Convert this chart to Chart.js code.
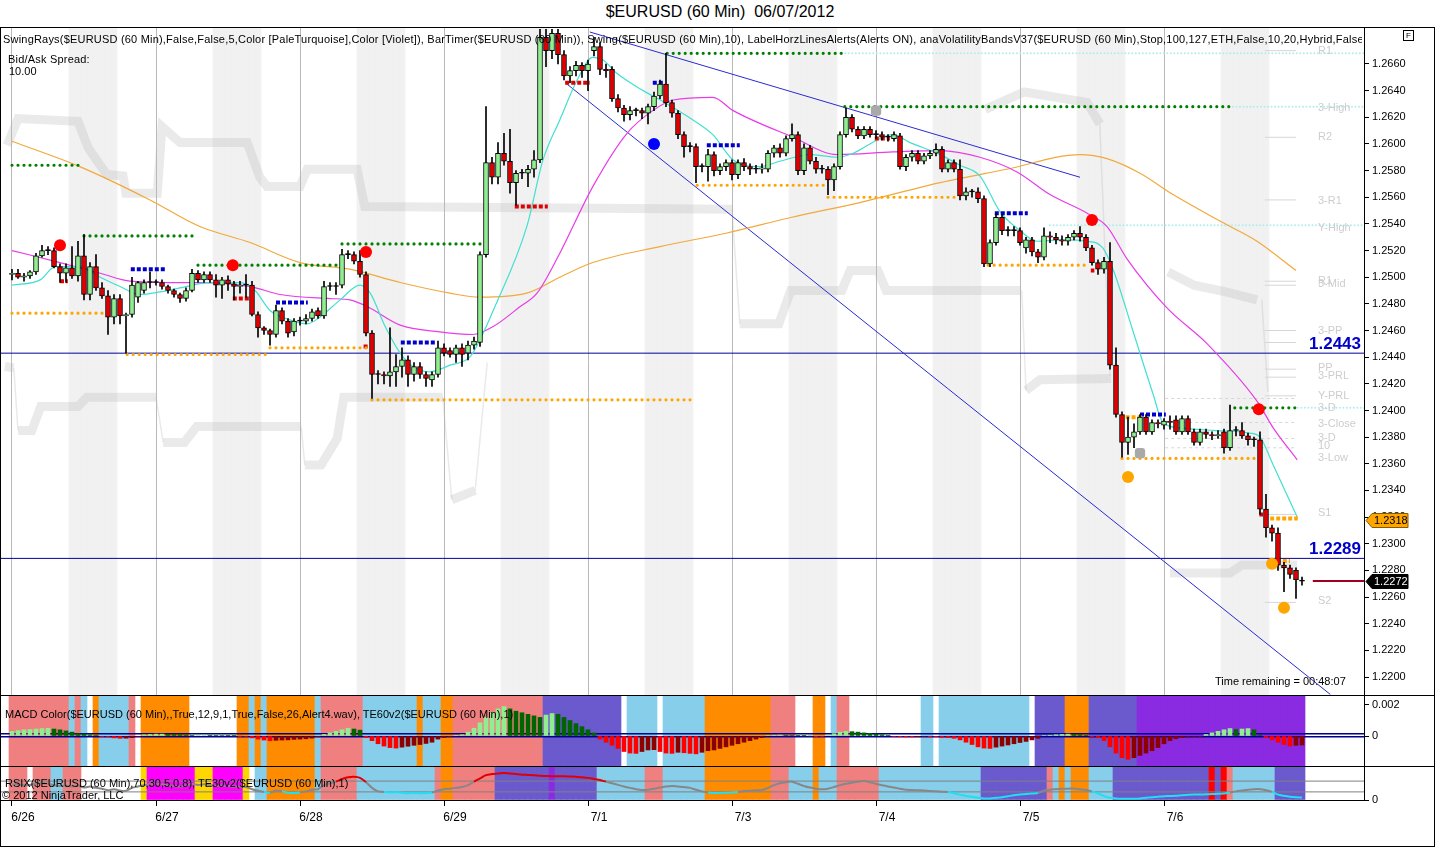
<!DOCTYPE html>
<html><head><meta charset="utf-8">
<script src="https://cdn.jsdelivr.net/npm/chart.js@4.4.1/dist/chart.umd.min.js"></script>
<style>
body{margin:0;background:#fff;width:1440px;height:847px;position:relative;overflow:hidden;font-family:Arial,"Liberation Sans",sans-serif;}
.t{position:absolute;white-space:nowrap;color:#000;font-size:11px;line-height:13px;z-index:5;}
canvas{position:absolute;left:0;}
.hl{position:absolute;background:#000;height:1px;left:0;z-index:6;}
</style></head><body>
<div class="t" style="left:0;width:1440px;top:3px;text-align:center;font-size:16px;line-height:18px;">$EURUSD (60 Min)&nbsp;&nbsp;06/07/2012</div>
<canvas id="cMain" width="1434" height="668" style="top:27px"></canvas>
<canvas id="cMacd" width="1434" height="71" style="top:695px"></canvas>
<canvas id="cRsi" width="1434" height="80" style="top:766px"></canvas>
<div style="position:absolute;left:0;top:27px;width:1435px;height:820px;box-sizing:border-box;border:1px solid #000;z-index:6;pointer-events:none"></div>
<div class="hl" style="top:695px;width:1435px"></div>
<div class="hl" style="top:766px;width:1435px"></div>
<div class="hl" style="top:800px;width:1365px"></div>
<div class="t" style="left:1403px;top:30px;width:9px;height:9px;border:1px solid #000;font-size:8px;line-height:9px;text-align:center;">F</div>
<div class="t" style="left:3px;top:33px;width:1359px;overflow:hidden;letter-spacing:0.2px;">SwingRays($EURUSD (60 Min),False,False,5,Color [PaleTurquoise],Color [Violet]), BarTimer($EURUSD (60 Min)), Swing($EURUSD (60 Min),10), LabelHorzLinesAlerts(Alerts ON), anaVolatilityBandsV37($EURUSD (60 Min),Stop,100,127,ETH,False,10,20,Hybrid,False,False)</div>
<div class="t" style="left:8px;top:53px;letter-spacing:0.2px;">Bid/Ask Spread:</div>
<div class="t" style="left:9px;top:65px;">10.00</div>
<div class="t" style="left:1215px;top:675px;">Time remaining = 00:48:07</div>
<div class="t" style="left:5px;top:708px;">MACD Color($EURUSD (60 Min),,True,12,9,1,True,False,26,Alert4.wav), TE60v2($EURUSD (60 Min),1)</div>
<div class="t" style="left:5px;top:777px;">RSIX($EURUSD (60 Min),70,30,5,0.8), TE30v2($EURUSD (60 Min),1)</div>
<div class="t" style="left:2px;top:789px;">© 2012 NinjaTrader, LLC</div>
<script>
// ---------------- DATA ----------------
const dayStarts = [0,24,48,72,96,120,144,168,192];
const dayLabels = ['6/26','6/27','6/28','6/29','7/1','7/3','7/4','7/5','7/6'];
const priceTicks = [1.2200,1.2220,1.2240,1.2260,1.2280,1.2300,1.2320,1.2340,1.2360,1.2380,1.2400,1.2420,1.2440,1.2460,1.2480,1.2500,1.2520,1.2540,1.2560,1.2580,1.2600,1.2620,1.2640,1.2660];
const sessionShadeStarts = [10,34,58,82,106,130,154,178,202];

const openP = [
1.2502,1.2503,1.2500,1.2501,1.2504,1.2516,1.2520,1.2520,1.2508,1.2503,1.2507,1.2501,
1.2516,1.2487,1.2508,1.2492,1.2486,1.2470,1.2484,1.2471,1.2472,1.2485,1.2490,1.2496,
1.2496,1.2496,1.2493,1.2490,1.2487,1.2484,1.2490,1.2503,1.2498,1.2502,1.2498,1.2494,
1.2498,1.2495,1.2493,1.2494,1.2494,1.2472,1.2462,1.2460,1.2457,1.2475,1.2467,1.2459,
1.2467,1.2467,1.2469,1.2475,1.2471,1.2493,1.2493,1.2494,1.2517,1.2517,1.2512,1.2502,
1.2458,1.2427,1.2427,1.2426,1.2429,1.2433,1.2438,1.2427,1.2433,1.2427,1.2423,1.2427,
1.2447,1.2445,1.2442,1.2447,1.2443,1.2449,1.2451,1.2517,1.2586,1.2575,1.2593,1.2587,
1.2571,1.2578,1.2578,1.2581,1.2588,1.2680,1.2670,1.2683,1.2667,1.2651,1.2655,1.2659,
1.2655,1.2670,1.2673,1.2656,1.2656,1.2634,1.2627,1.2622,1.2625,1.2625,1.2623,1.2628,
1.2636,1.2645,1.2631,1.2623,1.2607,1.2598,1.2598,1.2583,1.2583,1.2592,1.2580,1.2583,
1.2586,1.2577,1.2586,1.2583,1.2581,1.2581,1.2581,1.2593,1.2597,1.2593,1.2604,1.2607,
1.2580,1.2597,1.2587,1.2581,1.2581,1.2573,1.2583,1.2607,1.2620,1.2611,1.2606,1.2611,
1.2607,1.2607,1.2605,1.2604,1.2606,1.2583,1.2590,1.2593,1.2587,1.2591,1.2593,1.2596,
1.2581,1.2586,1.2581,1.2561,1.2564,1.2564,1.2559,1.2510,1.2526,1.2545,1.2535,1.2535,
1.2535,1.2522,1.2528,1.2519,1.2515,1.2531,1.2530,1.2528,1.2527,1.2530,1.2533,1.2530,
1.2522,1.2511,1.2506,1.2512,1.2434,1.2397,1.2376,1.2380,1.2384,1.2395,1.2384,1.2391,
1.2389,1.2392,1.2393,1.2384,1.2394,1.2384,1.2376,1.2384,1.2382,1.2381,1.2384,1.2372,
1.2385,1.2385,1.2381,1.2378,1.2378,1.2326,1.2312,1.2308,1.2284,1.2282,1.2280,1.2272];
const highP = [
1.2506,1.2506,1.2503,1.2505,1.2518,1.2524,1.2523,1.2522,1.2510,1.2510,1.2523,1.2527,
1.2532,1.2511,1.2517,1.2496,1.2490,1.2487,1.2487,1.2473,1.2500,1.2497,1.2498,1.2504,
1.2498,1.2498,1.2494,1.2491,1.2488,1.2492,1.2506,1.2505,1.2504,1.2504,1.2502,1.2500,
1.2501,1.2497,1.2497,1.2502,1.2497,1.2474,1.2463,1.2461,1.2479,1.2477,1.2469,1.2469,
1.2470,1.2472,1.2476,1.2477,1.2497,1.2496,1.2496,1.2521,1.2520,1.2519,1.2520,1.2504,
1.2460,1.2430,1.2429,1.2462,1.2442,1.2447,1.2441,1.2436,1.2436,1.2429,1.2429,1.2452,
1.2450,1.2447,1.2449,1.2450,1.2452,1.2455,1.2519,1.2628,1.2590,1.2601,1.2608,1.2611,
1.2580,1.2581,1.2584,1.2595,1.2686,1.2686,1.2686,1.2686,1.2670,1.2658,1.2662,1.2661,
1.2663,1.2680,1.2676,1.2660,1.2658,1.2637,1.2629,1.2628,1.2627,1.2627,1.2630,1.2639,
1.2648,1.2668,1.2633,1.2625,1.2609,1.2601,1.2600,1.2585,1.2596,1.2594,1.2585,1.2588,
1.2588,1.2588,1.2589,1.2585,1.2584,1.2585,1.2595,1.2599,1.2600,1.2606,1.2615,1.2609,
1.2600,1.2599,1.2590,1.2584,1.2583,1.2585,1.2609,1.2627,1.2622,1.2613,1.2613,1.2613,
1.2610,1.2609,1.2607,1.2609,1.2608,1.2592,1.2595,1.2595,1.2593,1.2595,1.2600,1.2598,
1.2588,1.2588,1.2588,1.2567,1.2566,1.2567,1.2561,1.2528,1.2548,1.2547,1.2538,1.2538,
1.2537,1.2530,1.2530,1.2521,1.2537,1.2534,1.2533,1.2531,1.2532,1.2535,1.2538,1.2532,
1.2524,1.2513,1.2515,1.2526,1.2447,1.2399,1.2395,1.2390,1.2397,1.2397,1.2393,1.2393,
1.2394,1.2396,1.2396,1.2396,1.2396,1.2386,1.2386,1.2386,1.2384,1.2385,1.2386,1.2404,
1.2388,1.2391,1.2383,1.2380,1.2384,1.2337,1.2314,1.2312,1.2286,1.2284,1.2282,1.2275];
const lowP = [
1.2498,1.2499,1.2497,1.2499,1.2502,1.2515,1.2517,1.2507,1.2496,1.2496,1.2499,1.2497,
1.2483,1.2483,1.2490,1.2484,1.2457,1.2465,1.2465,1.2443,1.2470,1.2481,1.2488,1.2492,
1.2494,1.2491,1.2488,1.2485,1.2481,1.2482,1.2489,1.2496,1.2496,1.2496,1.2485,1.2484,
1.2490,1.2483,1.2488,1.2485,1.2471,1.2455,1.2457,1.2449,1.2455,1.2465,1.2455,1.2456,
1.2464,1.2465,1.2467,1.2469,1.2469,1.2490,1.2487,1.2492,1.2514,1.2510,1.2500,1.2456,
1.2409,1.2420,1.2420,1.2418,1.2418,1.2425,1.2418,1.2422,1.2424,1.2418,1.2418,1.2425,
1.2441,1.2440,1.2436,1.2433,1.2438,1.2446,1.2448,1.2515,1.2570,1.2570,1.2584,1.2563,
1.2554,1.2574,1.2568,1.2575,1.2586,1.2658,1.2664,1.2660,1.2648,1.2646,1.2651,1.2650,
1.2640,1.2666,1.2652,1.2650,1.2632,1.2624,1.2617,1.2618,1.2621,1.2619,1.2615,1.2625,
1.2634,1.2628,1.2620,1.2604,1.2590,1.2594,1.2571,1.2579,1.2572,1.2576,1.2577,1.2580,
1.2573,1.2574,1.2580,1.2577,1.2578,1.2578,1.2579,1.2590,1.2590,1.2591,1.2602,1.2577,
1.2577,1.2585,1.2578,1.2578,1.2562,1.2565,1.2581,1.2605,1.2609,1.2604,1.2604,1.2605,
1.2604,1.2603,1.2602,1.2602,1.2581,1.2580,1.2587,1.2585,1.2585,1.2589,1.2591,1.2579,
1.2579,1.2579,1.2558,1.2558,1.2560,1.2556,1.2508,1.2508,1.2524,1.2532,1.2531,1.2531,
1.2524,1.2518,1.2516,1.2511,1.2513,1.2526,1.2525,1.2524,1.2524,1.2528,1.2527,1.2520,
1.2509,1.2502,1.2503,1.2431,1.2395,1.2365,1.2367,1.2372,1.2382,1.2382,1.2382,1.2387,
1.2386,1.2386,1.2382,1.2382,1.2382,1.2374,1.2374,1.2379,1.2378,1.2379,1.2368,1.2370,
1.2381,1.2379,1.2374,1.2373,1.2322,1.2305,1.2302,1.2280,1.2264,1.2274,1.2259,1.2269];
const closeP = [
1.2503,1.2500,1.2501,1.2504,1.2516,1.2520,1.2520,1.2508,1.2503,1.2507,1.2501,1.2516,
1.2487,1.2508,1.2492,1.2486,1.2470,1.2484,1.2471,1.2472,1.2494,1.2496,1.2496,1.2496,
1.2496,1.2493,1.2490,1.2487,1.2484,1.2490,1.2503,1.2498,1.2502,1.2498,1.2494,1.2498,
1.2495,1.2493,1.2494,1.2494,1.2472,1.2462,1.2460,1.2457,1.2475,1.2467,1.2458,1.2467,
1.2467,1.2469,1.2474,1.2471,1.2493,1.2493,1.2493,1.2517,1.2517,1.2512,1.2502,1.2458,
1.2427,1.2427,1.2426,1.2429,1.2433,1.2438,1.2427,1.2433,1.2427,1.2424,1.2427,1.2447,
1.2443,1.2442,1.2447,1.2442,1.2449,1.2452,1.2517,1.2586,1.2575,1.2593,1.2587,1.2571,
1.2578,1.2578,1.2581,1.2588,1.2680,1.2670,1.2683,1.2667,1.2651,1.2655,1.2659,1.2655,
1.2660,1.2673,1.2656,1.2655,1.2634,1.2627,1.2622,1.2625,1.2625,1.2623,1.2628,1.2636,
1.2645,1.2631,1.2623,1.2607,1.2598,1.2598,1.2583,1.2583,1.2592,1.2580,1.2583,1.2586,
1.2577,1.2586,1.2583,1.2581,1.2581,1.2582,1.2593,1.2597,1.2593,1.2604,1.2607,1.2580,
1.2597,1.2587,1.2581,1.2581,1.2573,1.2583,1.2607,1.2620,1.2611,1.2606,1.2611,1.2607,
1.2607,1.2605,1.2605,1.2607,1.2583,1.2590,1.2593,1.2587,1.2591,1.2593,1.2596,1.2581,
1.2586,1.2581,1.2561,1.2564,1.2564,1.2559,1.2510,1.2526,1.2545,1.2535,1.2535,1.2535,
1.2526,1.2528,1.2519,1.2515,1.2531,1.2530,1.2528,1.2527,1.2530,1.2533,1.2530,1.2522,
1.2511,1.2506,1.2512,1.2434,1.2397,1.2376,1.2380,1.2384,1.2395,1.2384,1.2391,1.2390,
1.2392,1.2391,1.2384,1.2394,1.2384,1.2376,1.2384,1.2382,1.2381,1.2382,1.2372,1.2385,
1.2385,1.2381,1.2378,1.2378,1.2326,1.2312,1.2308,1.2284,1.2282,1.2277,1.2273,1.2272];

// moving averages read at sample bars
const maSlowX = [0,11.3,23,31.3,39.7,48,56.3,64.7,73,78,85.8,91.3,96.8,108,119,130,141.3,154.7,165.8,178,182.5,188,193.5,201.8,207.5,214];
const maSlowY = [1.2602,1.2583,1.2558,1.2538,1.2526,1.2511,1.2506,1.2496,1.2488,1.2485,1.2488,1.2500,1.2511,1.2523,1.2533,1.2545,1.2556,1.2571,1.2581,1.2592,1.2589,1.2578,1.2562,1.2541,1.2527,1.2505];
const maMidX = [0,8,14.7,19.7,26.3,31.3,39.7,44.7,53,56.3,59.2,64.7,71.3,76.8,80.2,84.7,87.5,91.3,96.8,102.5,106.8,110.2,116.8,120.2,130.2,137.5,146.8,154.7,161.3,167.5,173,179.2,182.5,185.8,192.5,199.2,207.5,210.2,214.2];
const maMidY = [1.2520,1.2511,1.2503,1.2497,1.2496,1.2496,1.2493,1.2487,1.2484,1.2483,1.2478,1.2464,1.2459,1.2457,1.2463,1.2478,1.2488,1.2518,1.2568,1.2608,1.2625,1.2633,1.2635,1.2625,1.2605,1.2592,1.2594,1.2595,1.2590,1.2579,1.2562,1.2548,1.2538,1.2514,1.2477,1.2450,1.2407,1.2387,1.2363];
const maFastX = [0,4.7,7.2,11.3,14.7,18,21.3,24.7,28,33,38,40.5,43,46.3,49.2,51.3,54.7,58,59.7,62.2,64.7,66.8,69.7,73,76.3,78,80.2,85.8,88.5,91.3,94.2,96.8,98.5,100.8,105.2,109.2,113.5,116.8,120.2,124.7,128,133,137.5,140.2,144.2,146.8,149.7,154.7,158,161.3,164.7,168,170.8,174.7,179.2,181.8,183.5,186.8,190.2,191.8,194.7,200.2,206.3,208,210.2,214.2];
const maFastY = [1.2494,1.2498,1.2508,1.2508,1.2500,1.2493,1.2487,1.2489,1.2492,1.2496,1.2496,1.2490,1.2475,1.2468,1.2465,1.2470,1.2483,1.2494,1.2488,1.2463,1.2443,1.2433,1.2429,1.2434,1.2440,1.2453,1.2475,1.2538,1.2588,1.2618,1.2648,1.2665,1.2663,1.2653,1.2640,1.2630,1.2618,1.2607,1.2588,1.2583,1.2587,1.2592,1.2590,1.2593,1.2603,1.2607,1.2601,1.2592,1.2584,1.2576,1.2549,1.2535,1.2527,1.2528,1.2527,1.2522,1.2506,1.2460,1.2412,1.2391,1.2387,1.2385,1.2383,1.2380,1.2359,1.2320];

// swing rays [startBar, endBar, price]
const greenRays = [[0,11.3,1.2584],[12,30.5,1.2531],[31,54.7,1.2509],[55,78.5,1.2525],[109.2,138.3,1.2668],[138.8,203.5,1.2628],[203.8,214.3,1.2402]];
const orangeRays = [[0,15.5,1.2473],[19.2,42.2,1.2442],[43,59.2,1.2447],[60,113.3,1.2408],[114.2,135.5,1.2569],[136,158,1.2560],[162.7,179.3,1.2509],[185,207.5,1.2364]];
const orangeSquares = [[209.7,214.3,1.2319],[185.6,188.6,1.2395],[210.8,213,1.2287]];
const blueSquares = [[19.8,25.5,1.2506],[44,49.3,1.2481],[64.8,70.5,1.2451],[106.8,108.5,1.2646],[115.8,121.3,1.2599],[163.8,169.3,1.2548],[188,192.3,1.2397]];
const redSquares = [[8,9.3,1.2497],[36.8,39.7,1.2484],[58.6,59.4,1.2448],[92.2,96.3,1.2646],[83.8,89.3,1.2553],[143.8,146.3,1.2604],[179.8,180.4,1.2505],[207.9,208.5,1.2322]];
const cyanRays = [[138.3,225.4,1.2668],[203.5,225.4,1.2628],[173,225.4,1.2539],[214.3,225.4,1.2402]];

// swing dots [bar, price]
const redDots = [[8,1.2524],[36.8,1.2509],[59,1.2519],[180,1.2543],[207.8,1.2401]];
const blueDots = [[107,1.2600]];
const grayDots = [[144,1.2625],[188,1.2368]];
const orangeDots = [[186,1.2350],[210,1.2285],[212,1.2252]];

// trend lines [x1,y1,x2,y2]
const trendLines = [[96.3,1.2684,178,1.2575],[92.2,1.2646,219.7,1.2187]];
const levelLines = [1.2443,1.2289];
const lastPrice = 1.2272;
const markerPrices = [1.2318,1.2272];

// pivot levels
const pivotLinePrices = [1.2670,1.2605,1.2558,1.2497,1.2494,1.2460,1.2451,1.2431,1.2425,1.2411,1.2322,1.2256];
const pivotDashPrices = [1.2409,1.2391,1.2379,1.2372];
const pivotNames = ['R1','3-High','R2','3-R1','Y-High','R1','3-Mid','3-PP','PP','3-PRL','Y-PRL','3-D','3-Close','3-D','10','3-Low','S1','S2'];
const pivotLabelPrices = [1.2670,1.2627,1.2605,1.2557,1.2537,1.2497,1.2495,1.2460,1.2432,1.2426,1.2411,1.2402,1.2390,1.2379,1.2373,1.2364,1.2323,1.2257];

// volatility band outline [bar, price], null = break
const volBandThick = [[-0.8,1.2599],[1,1.2619],[11,1.2617],[12.7,1.2597],[15.8,1.2577],[18.5,1.2576],[19,1.2563],[24.2,1.2563],[25,1.2613],[28,1.2601],[39.2,1.2601],[41.3,1.2575],[42.5,1.2568],[48,1.2568],[49.2,1.2581],[57.5,1.2581],[58.8,1.2553],[120,1.2551],null,
[121.3,1.2465],[127.8,1.2465],[129.8,1.2490],[138.3,1.2490],[139.7,1.2505],[144.3,1.2505],[145.7,1.2490],[168,1.2490],null,
[169,1.2415],[171.3,1.2423],[183.2,1.2424],null,
[162.2,1.2626],[168.7,1.2639],[179.2,1.2631],[181.3,1.2615],null,
[192.7,1.2504],[197,1.2494],[202.3,1.2489],[207.5,1.2483],null,
[193,1.2278],[203,1.2278],[205,1.2284],[214.2,1.2284],null,
[-1.2,1.2433],[0.3,1.2432],null,
[1,1.2385],[3.3,1.2385],[4.8,1.2403],[11,1.2403],[12.5,1.2410],[24,1.2410],null,
[25.2,1.2376],[28.7,1.2376],[30.8,1.2388],[48.2,1.2388],null,
[48.8,1.2359],[51.5,1.2359],[54.2,1.2379],[55.3,1.2410],[71.8,1.2410],null,
[73.3,1.2333],[77.2,1.2340]];
const volBandThin = [[120,1.2551],[121.3,1.2465],null,[168.3,1.2490],[169,1.2415],null,[181.3,1.2615],[183,1.2426],null,[208.3,1.2483],[209.3,1.2414],null,
[0.3,1.2432],[1,1.2385],null,[24,1.2410],[25.2,1.2376],null,[48.2,1.2388],[48.8,1.2359],null,[71.8,1.2410],[73.3,1.2333],null,[77.2,1.2340],[79.2,1.2436]];

// MACD histogram
const macdHist = [
0.00030,0.00035,0.00040,0.00042,0.00045,0.00048,0.00050,0.00045,0.00040,0.00033,0.00025,0.00015,
0.00012,0.00008,0.00003,-0.00002,-0.00005,-0.00012,-0.00015,-0.00014,-0.00010,-0.00004,0.00008,0.00010,
0.00012,0.00012,0.00010,0.00009,0.00008,0.00006,0.00004,0.00005,0.00006,0.00005,0.00004,0.00003,
0.00002,0.00001,-0.00001,-0.00003,-0.00012,-0.00020,-0.00026,-0.00030,-0.00028,-0.00026,-0.00025,-0.00022,
-0.00020,-0.00018,-0.00014,-0.00005,0.00010,0.00020,0.00030,0.00040,0.00050,0.00045,0.00038,-0.00010,
-0.00030,-0.00050,-0.00065,-0.00075,-0.00078,-0.00072,-0.00066,-0.00060,-0.00055,-0.00048,-0.00040,-0.00020,
-0.00010,-0.00005,0.00002,0.00008,0.00025,0.00050,0.00085,0.00120,0.00150,0.00175,0.00190,0.00175,
0.00160,0.00150,0.00140,0.00130,0.00120,0.00135,0.00145,0.00140,0.00120,0.00100,0.00080,0.00060,
0.00040,0.00020,-0.00020,-0.00040,-0.00060,-0.00080,-0.00100,-0.00110,-0.00112,-0.00100,-0.00090,-0.00088,
-0.00100,-0.00110,-0.00112,-0.00105,-0.00108,-0.00112,-0.00115,-0.00105,-0.00095,-0.00090,-0.00080,-0.00070,
-0.00060,-0.00050,-0.00040,-0.00030,-0.00020,-0.00010,0.00003,0.00005,0.00006,0.00004,0.00003,0.00002,
0.00001,0.00000,-0.00002,-0.00003,0.00005,0.00015,0.00025,0.00030,0.00028,0.00025,0.00020,0.00016,
0.00012,0.00008,0.00004,-0.00003,-0.00005,-0.00006,-0.00006,-0.00005,-0.00004,-0.00005,-0.00006,-0.00008,
-0.00010,-0.00015,-0.00025,-0.00040,-0.00055,-0.00070,-0.00078,-0.00080,-0.00072,-0.00065,-0.00058,-0.00050,
-0.00042,-0.00035,-0.00025,-0.00015,0.00003,0.00005,0.00008,0.00010,0.00012,0.00010,0.00008,0.00004,
-0.00005,-0.00010,-0.00030,-0.00070,-0.00110,-0.00140,-0.00150,-0.00140,-0.00125,-0.00110,-0.00095,-0.00075,
-0.00050,-0.00030,-0.00018,-0.00010,-0.00006,-0.00004,-0.00002,0.00010,0.00020,0.00030,0.00040,0.00048,
0.00042,0.00045,0.00048,0.00040,0.00005,-0.00010,-0.00025,-0.00040,-0.00055,-0.00065,-0.00060,-0.00058];
const macdLevels = [0.00015,-0.00005];
const macdZones = [[0,10,'P'],[10,11,'B'],[11,12,'P'],[12,13,'B'],[14,15,'O'],[15,20,'B'],[20,21,'P'],[22,30,'O'],[38,40,'O'],[40,41,'B'],[41,42,'O'],[42,43,'B'],[43,51,'O'],[51,52,'B'],[52,59,'P'],[59,68,'B'],[68,69,'O'],[69,72,'B'],[72,74,'O'],[74,89,'P'],[89,102,'S'],[103,108,'B'],[109,116,'B'],[116,127,'O'],[127,131,'P'],[134,136,'O'],[137,138,'B'],[138,140,'P'],[152,154,'B'],[155,170,'B'],[171,176,'S'],[176,180,'O'],[180,188,'S'],[188,216,'V']];

// RSIX
const rsix = [
58,57,55,56,60,62,60,55,52,53,50,54,
46,50,45,42,36,40,35,34,45,50,55,58,
60,58,55,52,50,54,60,56,58,55,52,54,
52,50,50,48,40,34,30,27,35,32,27,26,
28,32,38,40,55,62,68,78,84,86,82,66,
45,32,30,28,29,27,25,26,25,26,28,35,
40,42,45,48,55,68,80,92,96,98,100,98,
96,94,93,92,90,89,88,88,88,87,86,84,
82,78,74,68,62,56,50,45,40,37,38,42,
46,50,52,50,48,45,38,32,28,26,26,27,
28,30,33,34,36,37,45,55,62,66,68,60,
52,46,42,40,42,48,55,60,64,68,70,66,
60,55,50,46,42,38,37,36,35,33,32,31,
30,25,20,15,12,8,6,6,8,10,14,18,
20,22,24,26,35,38,40,42,42,43,40,37,
32,24,15,8,6,5,5,5,6,8,10,12,
14,15,16,18,19,20,20,21,22,23,24,28,
32,35,38,40,40,36,30,20,16,12,10,9];
const rsiLevels = [70,30];
const rsiZones = [[0,3,'P'],[4,7,'P'],[7,9,'B'],[9,12,'P'],[22,23,'Y'],[23,31,'M'],[31,34,'Y'],[34,39,'M'],[39,40,'Y'],[41,43,'B'],[43,51,'O'],[51,52,'B'],[52,58,'P'],[58,71,'B'],[71,72,'P'],[72,74,'O'],[74,81,'P'],[81,90,'S'],[90,91,'V'],[91,98,'S'],[98,106,'B'],[106,109,'P'],[109,116,'B'],[116,127,'O'],[127,130,'P'],[130,134,'B'],[134,135,'O'],[135,138,'B'],[138,145,'P'],[145,162,'B'],[162,173,'S'],[173,174,'P'],[174,175,'B'],[175,176,'O'],[176,177,'B'],[177,180,'O'],[180,184,'B'],[184,200,'S'],[200,201,'R'],[201,202,'S'],[202,203,'R'],[203,204,'P'],[204,211,'B'],[211,216,'S']];

// ---------------- STYLE / BUILD ----------------
const FONT = 'Arial, "Liberation Sans", sans-serif';
const X_MIN = -2, X_MAX = 225 + 1/3;
const Y_MIN = 1.21865, Y_MAX = 1.26870;
const M_MIN = -0.001935, M_MAX = 0.002645;
const R_MIN = 0, R_MAX = 126;
const zoneColors = {P:'#F08080',B:'#87CEEB',O:'#FF8C00',S:'#6A5ACD',V:'#8A2BE2',M:'#FF00FF',Y:'#FFD700',R:'#FF0000'};

Chart.defaults.font.family = FONT;
const idx = closeP.map((_, i) => i);

function rayData(list){ const d=[]; list.forEach(r=>{ d.push({x:r[0],y:r[2]},{x:r[1],y:r[2]},{x:r[1],y:null}); }); return d; }
function pathData(list){ let last=0; return list.map(p=>{ if(p){ last=p[0]; return {x:p[0],y:p[1]}; } return {x:last,y:null}; }); }
function xyData(xs, ys){ return xs.map((x,k)=>({x:x,y:ys[k]})); }
function zoneBars(zones, lo, hi){ const data=[], colors=[]; zones.forEach(z=>{ for(let i=z[0];i<z[1];i++){ data.push({x:i,y:[lo,hi]}); colors.push(zoneColors[z[2]]); } }); return {data, colors}; }
function lineDS(data, color, width, order, extra){ return Object.assign({type:'line', data, borderColor:color, borderWidth:width, pointRadius:0, fill:false, tension:0, spanGaps:false, order}, extra||{}); }
function dotDS(list, color, order, style){ return {type:'line', showLine:false, data:list.map(p=>({x:p[0],y:p[1]})), pointRadius:6, pointStyle:style||'circle', pointBackgroundColor:color, pointBorderColor:color, pointBorderWidth:0, order}; }

const shadeData = [];
sessionShadeStarts.forEach(s=>{ for(let k=0;k<8;k++) shadeData.push({x:s+k, y:[Y_MIN, Y_MAX]}); });

function xScale(extra){
  return Object.assign({type:'linear', min:X_MIN, max:X_MAX, offset:false,
    afterBuildTicks: s => { s.ticks = dayStarts.map(v=>({value:v})); },
    ticks:{display:false}, grid:{color:'#b9b9b9', lineWidth:1, drawTicks:false, offset:false},
    border:{display:false},
    afterFit: s => { s.height = 0; s.paddingLeft = 0; s.paddingRight = 0; }}, extra||{});
}
function yScale(min, max, ticks, fmt){
  return {position:'right', min, max,
    afterBuildTicks: s => { s.ticks = ticks.map(v=>({value:v})); },
    ticks:{callback: fmt, font:{size:11, family:FONT}, color:'#000', padding:3},
    grid:{drawOnChartArea:false, drawTicks:true, tickLength:5, tickColor:'#000'},
    border:{display:true, color:'#000', width:1},
    afterFit: s => { s.width = 70; s.paddingTop = 0; s.paddingBottom = 0; }};
}

const mainOverlay = {
  id:'mainOverlay',
  afterDraw(chart){
    const ctx = chart.ctx, y = chart.scales.y, right = chart.chartArea.right;
    ctx.save();
    ctx.font = '11px ' + FONT; ctx.fillStyle = '#cdcdcd'; ctx.textAlign = 'left'; ctx.textBaseline = 'middle';
    pivotNames.forEach((n,k) => ctx.fillText(n, 1318, y.getPixelForValue(pivotLabelPrices[k])));
    ctx.font = 'bold 17px ' + FONT; ctx.fillStyle = '#0000cc'; ctx.textAlign = 'right'; ctx.textBaseline = 'alphabetic';
    levelLines.forEach(v => ctx.fillText(v.toFixed(4), right - 3, y.getPixelForValue(v) - 4));
    const fills = ['#FFA500', '#000000'], texts = ['#000', '#fff'];
    markerPrices.forEach((v,k) => {
      const py = Math.round(y.getPixelForValue(v)) + 0.5, x0 = right + 2;
      ctx.beginPath(); ctx.moveTo(x0, py); ctx.lineTo(x0 + 6, py - 7); ctx.lineTo(x0 + 42, py - 7); ctx.lineTo(x0 + 42, py + 7); ctx.lineTo(x0 + 6, py + 7); ctx.closePath();
      ctx.fillStyle = fills[k]; ctx.fill(); ctx.strokeStyle = k ? '#000' : '#8a5a00'; ctx.lineWidth = 1; ctx.stroke();
      ctx.font = '11px ' + FONT; ctx.fillStyle = texts[k]; ctx.textAlign = 'left'; ctx.textBaseline = 'middle';
      ctx.fillText(v.toFixed(4), x0 + 8, py + 0.5);
    });
    ctx.restore();
  }
};

const histColors = macdHist.map((v,i) => {
  const p = i ? macdHist[i-1] : v;
  if (v >= 0) return v >= p ? '#90EE90' : '#006400';
  return v <= p ? '#FF0000' : '#8B0000';
});

const bandColor = 'rgba(185,185,185,0.3)';

// ---------------- MAIN CHART ----------------
new Chart(document.getElementById('cMain'), {
  type:'bar',
  data:{ datasets:[
    dotDS(redDots, '#FF0000', 0),
    dotDS(blueDots, '#0000FF', 0),
    dotDS(grayDots, '#A9A9A9', 0, 'rectRounded'),
    dotDS(orangeDots, '#FFA500', 0),
    {type:'bar', data: idx.map(i=>({x:i, y:[openP[i], closeP[i]]})),
      backgroundColor: idx.map(i => closeP[i] > openP[i] ? '#90EE90' : (closeP[i] < openP[i] ? '#E00000' : '#000')),
      borderColor:'#000', borderWidth:1, borderSkipped:false, barThickness:5, grouped:false, minBarLength:1, order:1},
    {type:'bar', data: idx.map(i=>({x:i, y:[lowP[i], highP[i]]})), backgroundColor:'#000', borderWidth:0, barThickness:1, grouped:false, order:2},
    lineDS(rayData(greenRays), '#008000', 3.2, 3, {borderDash:[0,6], borderCapStyle:'round'}),
    lineDS(rayData(orangeRays), '#FFA500', 3.2, 3, {borderDash:[0,6], borderCapStyle:'round'}),
    lineDS(rayData(orangeSquares), '#FFA500', 4, 3, {borderDash:[4,2]}),
    lineDS(rayData(blueSquares), '#0000CD', 4, 3, {borderDash:[4,2]}),
    lineDS(rayData(redSquares), '#E00000', 4, 3, {borderDash:[4,2]}),
    lineDS(xyData(maFastX, maFastY), '#40E0D0', 1.2, 4, {cubicInterpolationMode:'monotone'}),
    lineDS(xyData(maMidX, maMidY), '#E83CE8', 1.2, 4, {cubicInterpolationMode:'monotone'}),
    lineDS(xyData(maSlowX, maSlowY), '#F2A93B', 1.2, 4, {cubicInterpolationMode:'monotone'}),
    lineDS(pathData(trendLines.flatMap(t=>[[t[0],t[1]],[t[2],t[3]],null])), '#2a2ad4', 1, 5),
    lineDS(rayData(levelLines.map(v=>[X_MIN, X_MAX, v])), '#00009c', 1, 5),
    lineDS(rayData([[216.8, X_MAX, lastPrice]]), '#A00020', 2, 5),
    lineDS(rayData(cyanRays), '#AFEEEE', 2, 6, {borderDash:[0,3.5], borderCapStyle:'round'}),
    lineDS(rayData(pivotLinePrices.map(v=>[208.8, 214, v])), '#d6d6d6', 1, 6),
    lineDS(rayData(pivotDashPrices.map(v=>[192.2, 214, v])), '#d6d6d6', 1, 6, {borderDash:[3,3]}),
    lineDS(pathData(volBandThick), bandColor, 9, 8, {borderJoinStyle:'miter'}),
    lineDS(pathData(volBandThin), bandColor, 1.5, 8),
    {type:'bar', data:shadeData, backgroundColor:'#f1f1f1', borderWidth:0, barThickness:6, grouped:false, order:9}
  ]},
  options:{
    responsive:false, animation:false, devicePixelRatio:1,
    layout:{padding:{top:1,left:0,right:0,bottom:0}, autoPadding:false},
    plugins:{legend:{display:false}, tooltip:{enabled:false}},
    events:[],
    scales:{ x: xScale(), y: yScale(Y_MIN, Y_MAX, priceTicks, v => v.toFixed(4)) }
  },
  plugins:[mainOverlay]
});

// ---------------- MACD ----------------
const mz = zoneBars(macdZones, M_MIN, M_MAX);
new Chart(document.getElementById('cMacd'), {
  type:'bar',
  data:{ datasets:[
    {type:'bar', data: idx.map(i=>({x:i, y:macdHist[i]})), backgroundColor:histColors, borderWidth:0, barThickness:4, grouped:false, order:1},
    lineDS(rayData(macdLevels.map(v=>[X_MIN, X_MAX, v])), '#00008b', 1.5, 2),
    {type:'bar', data:mz.data, backgroundColor:mz.colors, borderWidth:0, barThickness:6, grouped:false, order:5}
  ]},
  options:{
    responsive:false, animation:false, devicePixelRatio:1,
    layout:{padding:0, autoPadding:false},
    plugins:{legend:{display:false}, tooltip:{enabled:false}},
    events:[],
    scales:{ x: xScale({z:1}), y: yScale(M_MIN, M_MAX, [0, 0.002], v => v === 0 ? '0' : v.toFixed(3)) }
  }
});

// ---------------- RSIX ----------------
const rz = zoneBars(rsiZones, R_MIN, R_MAX);
new Chart(document.getElementById('cRsi'), {
  type:'bar',
  data:{ datasets:[
    lineDS(idx.map(i=>({x:i, y:rsix[i]})), '#808080', 2, 1, {tension:0.3, segment:{borderColor: c => { const v=(c.p0.parsed.y+c.p1.parsed.y)/2; return v>70 ? '#E00000' : (v<30 ? '#1EE0F0' : '#878787'); }}}),
    lineDS(rayData(rsiLevels.map(v=>[X_MIN, X_MAX, v])), '#808080', 1, 3),
    {type:'bar', data:rz.data, backgroundColor:rz.colors, borderWidth:0, barThickness:6, grouped:false, order:5}
  ]},
  options:{
    responsive:false, animation:false, devicePixelRatio:1,
    layout:{padding:0, autoPadding:false},
    plugins:{legend:{display:false}, tooltip:{enabled:false}},
    events:[],
    scales:{
      x: xScale({z:1,
        ticks:{display:true, callback:(v,k)=>dayLabels[k], font:{size:12, family:FONT}, color:'#000', labelOffset:11, padding:4, maxRotation:0, autoSkip:false},
        grid:{color:'#b9b9b9', lineWidth:1, drawTicks:true, tickLength:6, tickColor:'#000', offset:false},
        afterFit: s => { s.height = 46; s.paddingLeft = 0; s.paddingRight = 0; }}),
      y: yScale(R_MIN, R_MAX, [0], v => '0')
    }
  }
});
</script>
</body></html>
